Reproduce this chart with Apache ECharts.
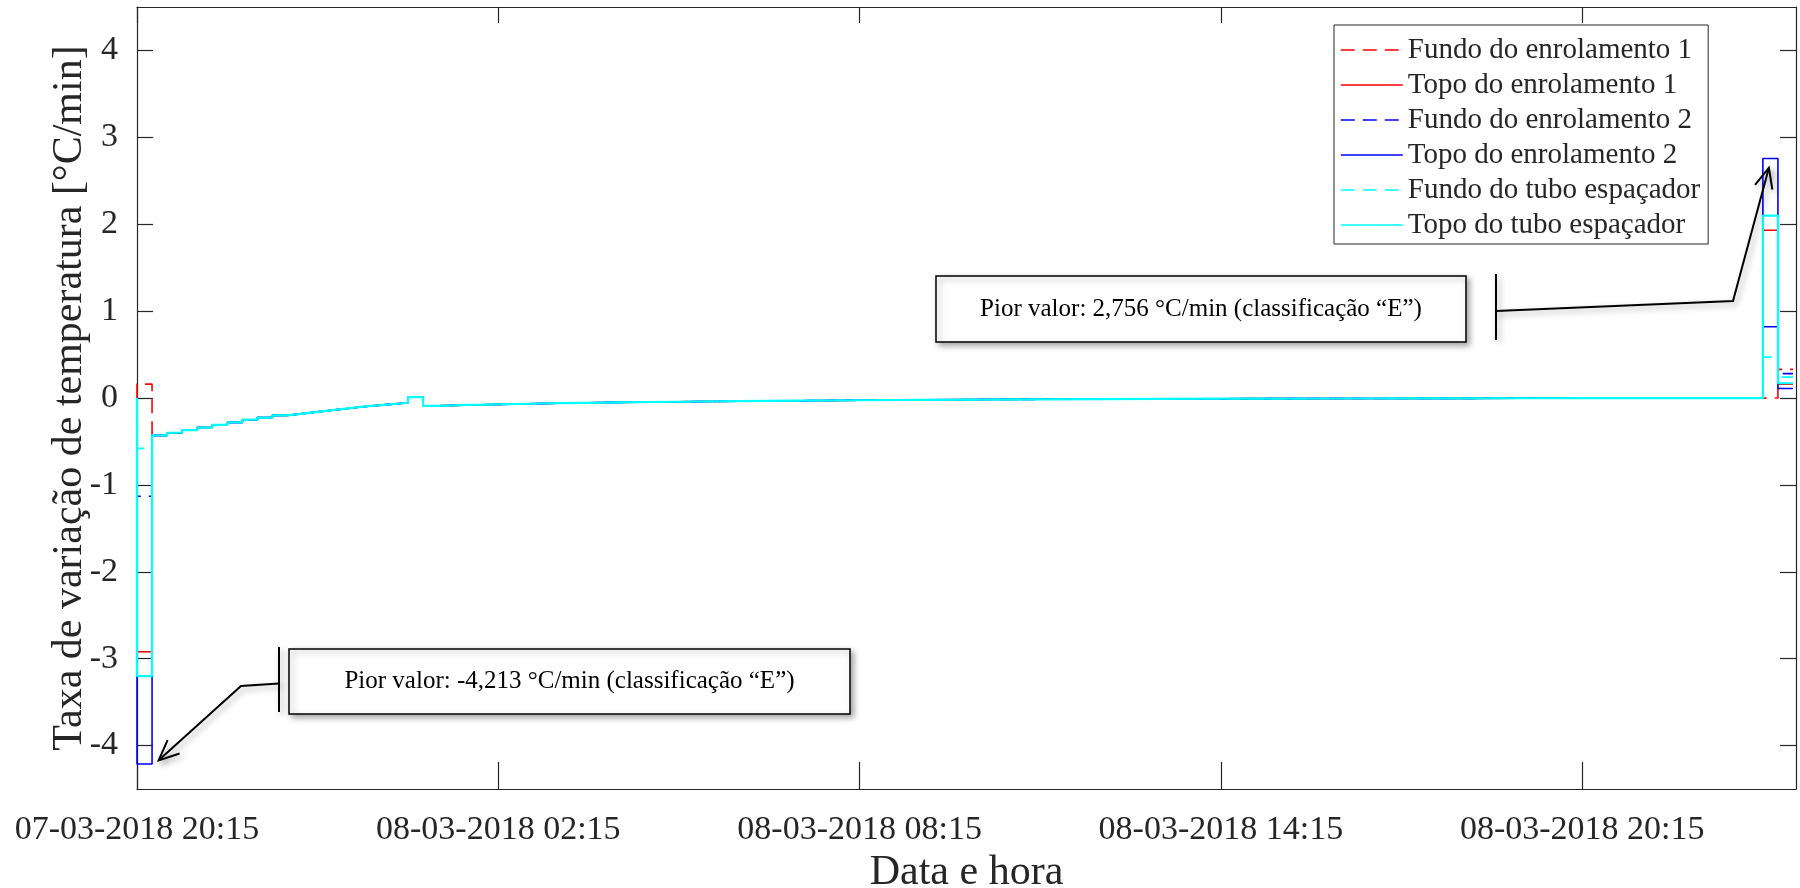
<!DOCTYPE html>
<html><head><meta charset="utf-8">
<script src="https://cdn.jsdelivr.net/npm/echarts@6/dist/echarts.min.js"></script>
<style>html,body{margin:0;padding:0;background:#fff}#c{width:1800px;height:888px}</style>
</head><body><div id="c"></div>
<script>
// ---- data (hours since 07-03-2018 20:15, rate in °C/min) ----
const seriesNames = ['Fundo do enrolamento 1','Topo do enrolamento 1','Fundo do enrolamento 2','Topo do enrolamento 2','Fundo do tubo espaçador','Topo do tubo espaçador'];
const seriesColors = ['#ff0000','#ff0000','#0000ff','#0000ff','#00ffff','#00ffff'];
const seriesDashed = [true,false,true,false,true,false];
const initialRates = [0,0,0,0,0,0];          // at 0 h
const firstRates = [0.16,-2.92,-1.13,-4.213,-0.58,-3.20];   // step ending at 0.25 h
const commonHours = [0.5,0.75,1.0,1.25,1.5,1.75,2.0,2.25,2.5,2.75,3.0,3.25,3.5,3.75,4.0,4.25,4.5,4.75,5.0,5.25,5.5,5.75,6.0,6.5,7.0,7.5,8.0,9.0,10.0,11.0,12.0,13.0,14.0,15.0,16.0,17.0,18.0,19.0,20.0,21.0,22.0,23.0,24.0,25.0,26.0,27.0];
const commonRates = [-0.43,-0.40,-0.37,-0.34,-0.31,-0.28,-0.25,-0.225,-0.20,-0.18,-0.16,-0.14,-0.12,-0.10,-0.085,-0.07,-0.055,0.01,-0.09,-0.085,-0.08,-0.077,-0.073,-0.066,-0.06,-0.055,-0.05,-0.043,-0.037,-0.031,-0.026,-0.022,-0.018,-0.015,-0.012,-0.010,-0.008,-0.007,-0.006,-0.005,-0.004,-0.003,-0.002,-0.002,-0.001,-0.001];
const spikeHours = [27.25, 27.5];
const spikeRates = [0.0,1.93,0.82,2.756,0.47,2.10];
const lastRates = [0.33,0.16,0.28,0.11,0.24,0.17];
const xTickHours = [0,6,12,18,24];
const yTickValues = [-4,-3,-2,-1,0,1,2,3,4];
const xMaxHours = 27.55;
const annotationTexts = ['Pior valor: -4,213 °C/min (classificação “E”)','Pior valor: 2,756 °C/min (classificação “E”)'];
const annotationTargets = [[0.36,-4.17],[27.1,2.65]];

const FONT = '"Liberation Serif","Times New Roman",serif';
const AX = '#262626';
const baseMs = Date.UTC(2018,2,7,20,15);
function pad(n){return (n<10?'0':'')+n;}
function fmtHour(h){
  const d = new Date(baseMs + Math.round(h*3600000));
  return pad(d.getUTCDate())+'-'+pad(d.getUTCMonth()+1)+'-'+d.getUTCFullYear()+' '+pad(d.getUTCHours())+':'+pad(d.getUTCMinutes());
}
function buildData(i){
  const d = [[0, initialRates[i]], [0.25, firstRates[i]]];
  for (let k=0;k<commonHours.length;k++) d.push([commonHours[k], commonRates[k]]);
  d.push([spikeHours[0], spikeRates[i]]);
  d.push([spikeHours[1], lastRates[i]]);
  return d;
}
const series = seriesNames.map((n,i)=>({
  name:n, type:'line', step:'start', symbol:'none', showSymbol:false,
  xAxisIndex:0, yAxisIndex:0, animation:false,
  lineStyle:{color:seriesColors[i], width:(i===5?2.2:1.6), type: seriesDashed[i]?[14,8]:'solid'},
  itemStyle:{color:seriesColors[i], opacity:0},
  data: buildData(i)
}));

const gridL=137, gridT=7, gridR=4, gridB=99;
const chart = echarts.init(document.getElementById('c'), null, {renderer:'canvas'});
const lineSt = {color:AX, width:1.2};
const option = {
  backgroundColor:'#fff',
  animation:false,
  grid:{left:gridL, top:gridT, right:gridR, bottom:gridB, containLabel:false, outerBoundsMode:'none'},
  legend:{
    orient:'vertical', left:1334, top:25,
    data: seriesNames,
    itemWidth:62, itemHeight:14, itemGap:5,
    padding:[10,8,4,6],
    borderColor:AX, borderWidth:1, backgroundColor:'#fff',
    itemStyle:{opacity:0},
    lineStyle:{width:1.6},
    textStyle:{fontFamily:FONT, fontSize:29, color:AX, lineHeight:30},
    selectedMode:false
  },
  xAxis:[
    {
      type:'value', position:'bottom', min:0, max:xMaxHours, splitLine:{show:false},
      axisLine:{show:true, onZero:false, lineStyle:lineSt},
      axisTick:{show:true, inside:true, length:27, customValues:xTickHours, lineStyle:lineSt},
      axisLabel:{show:true, customValues:xTickHours, formatter:v=>fmtHour(v), fontFamily:FONT, fontSize:34, color:AX, margin:24},
      name:'Data e hora', nameLocation:'middle', nameGap:63, nameMoveOverlap:false,
      nameTextStyle:{fontFamily:FONT, fontSize:42, color:AX}
    },
    {
      type:'value', position:'top', min:0, max:xMaxHours, splitLine:{show:false},
      axisLine:{show:true, onZero:false, lineStyle:lineSt},
      axisTick:{show:true, inside:true, length:16, customValues:xTickHours, lineStyle:lineSt},
      axisLabel:{show:false}
    }
  ],
  yAxis:[
    {
      type:'value', position:'left', min:-4.5, max:4.5, splitLine:{show:false},
      axisLine:{show:true, onZero:false, lineStyle:lineSt},
      axisTick:{show:true, inside:true, length:16, customValues:yTickValues, lineStyle:lineSt},
      axisLabel:{show:true, customValues:yTickValues, fontFamily:FONT, fontSize:34, color:AX, margin:19},
      name:'Taxa de variação de temperatura [°C/min]', nameLocation:'middle', nameGap:46, nameRotate:90, nameMoveOverlap:false,
      nameTextStyle:{fontFamily:FONT, fontSize:42, color:AX}
    },
    {
      type:'value', position:'right', min:-4.5, max:4.5, splitLine:{show:false},
      axisLine:{show:true, onZero:false, lineStyle:lineSt},
      axisTick:{show:true, inside:true, length:16, customValues:yTickValues, lineStyle:lineSt},
      axisLabel:{show:false}
    }
  ],
  series: series
};
chart.setOption(option);

// ---- annotations (callout boxes with arrows) ----
function arrowHead(tip, from, len, ang){
  const a = Math.atan2(from[1]-tip[1], from[0]-tip[0]);
  return [[tip[0]+len*Math.cos(a+ang), tip[1]+len*Math.sin(a+ang)], tip, [tip[0]+len*Math.cos(a-ang), tip[1]+len*Math.sin(a-ang)]];
}
const shadow = {shadowBlur:6, shadowColor:'rgba(0,0,0,0.35)', shadowOffsetX:3, shadowOffsetY:3};
function callout(box, barX, knee, tip, text){
  const els = [];
  els.push({type:'rect', shape:{x:box[0], y:box[1], width:box[2], height:box[3]},
    style:Object.assign({fill:'#fff', stroke:'#000', lineWidth:1.5}, shadow), z:100});
  els.push({type:'text', style:{text:text, x:box[0]+box[2]/2, y:box[1]+box[3]/2, align:'center', verticalAlign:'middle',
    font:'25px '+FONT, fill:'#000'}, z:101});
  const barMid = box[1]+box[3]/2;
  els.push({type:'line', shape:{x1:barX, y1:box[1]-2, x2:barX, y2:box[1]+box[3]-2}, style:Object.assign({stroke:'#000', lineWidth:2}, shadow), z:100});
  els.push({type:'polyline', shape:{points:[[barX, barMid+2], knee, tip]}, style:Object.assign({stroke:'#000', lineWidth:2, fill:null}, shadow), z:100});
  els.push({type:'polyline', shape:{points:arrowHead(tip, knee, 22, 0.42)}, style:Object.assign({stroke:'#000', lineWidth:2, fill:null}, shadow), z:100});
  return els;
}
const tipL = chart.convertToPixel({xAxisIndex:0, yAxisIndex:0}, annotationTargets[0]);
const tipR = chart.convertToPixel({xAxisIndex:0, yAxisIndex:0}, annotationTargets[1]);
const graphics = [].concat(
  callout([289,649,561,65], 279, [241,686], tipL, annotationTexts[0]),
  callout([936,276,530,66], 1496, [1733,301], tipR, annotationTexts[1])
);
chart.setOption({graphic:graphics});
</script>
</body></html>
